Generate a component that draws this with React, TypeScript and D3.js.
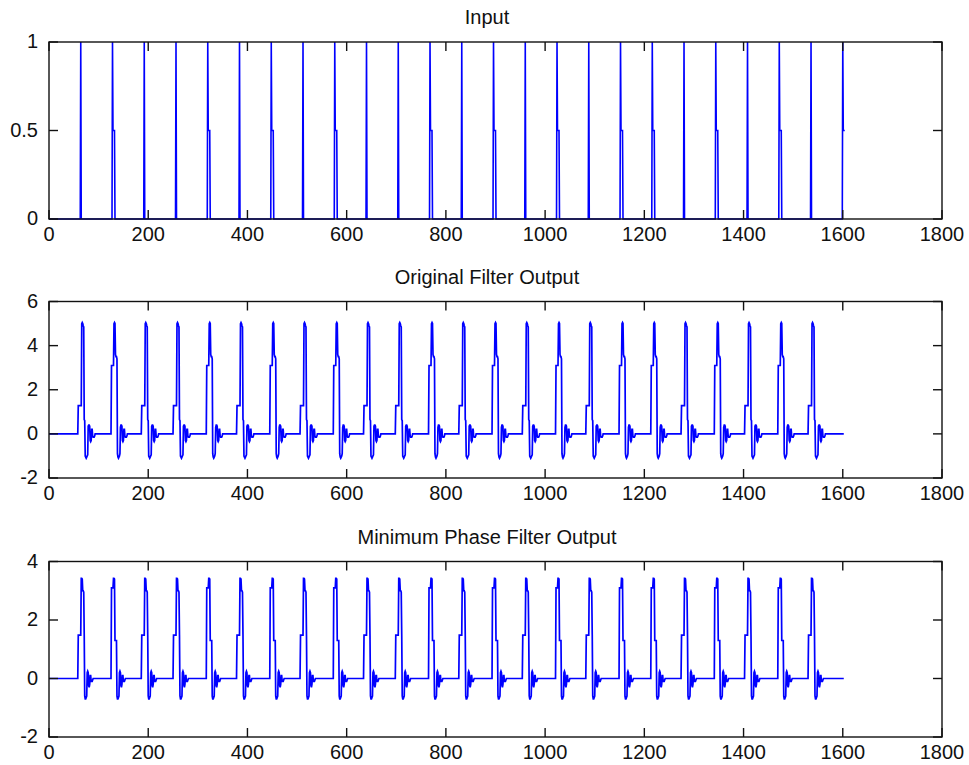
import React from 'react';
import * as d3 from 'd3';

// Sample index ticks shared by all three panels
const xTicks = [0, 200, 400, 600, 800, 1000, 1200, 1400, 1600, 1800];
const xMax = 1800;
const signalLength = 1603;

// Impulse train: a unit impulse every 64 samples, some followed by a 0.5 tail
const pulseStarts = [
  64, 128, 192, 256, 320, 384, 448, 512, 576, 640, 704, 768, 832,
  896, 960, 1024, 1088, 1152, 1216, 1280, 1344, 1408, 1472, 1536, 1600,
];
const pulseHasTail = [
  false, true, false, false, true, false, true, false, true, false, false, true, false,
  true, false, true, false, true, true, false, true, false, true, false, true,
];
const inputTail = [0.5, 0.5, 0.5, 0.5];

// Response shapes (values per sample, starting at the given offset from the impulse)
const origShapeStart = -5;
const origShapePlain = [
  1.28, 1.28, 1.28, 1.28, 1.28, 1.28, 1.28,
  5.0, 5.05, 5.0, 4.9, 4.85, 0.65, 0.6,
  -1.0, -1.05, -1.1, -1.05, -1.0, -0.95,
  0.35, 0.4, 0.4, 0.35, -0.3, -0.35, -0.3,
  0.2, 0.2, -0.1, -0.15, -0.15, -0.15, -0.1,
];
const origShapeTail = [
  0, 0, 0, 3.1, 3.1, 3.1, 3.1, 3.1,
  5.0, 5.05, 5.0, 3.6, 3.5, 3.5, 3.4,
  -0.9, -1.05, -1.1, -1.05, -1.0, -0.9,
  0.3, 0.4, 0.4, 0.35, -0.3, -0.35, -0.3,
  0.2, 0.2, -0.1, -0.15, -0.15, -0.15, -0.1,
];

const minShapeStart = -5;
const minShapePlain = [
  1.48, 1.48, 1.48, 1.48, 1.48, 1.48,
  3.42, 3.42, 3.4, 3.0, 3.0, 2.95, 1.5,
  -0.6, -0.7, -0.7, -0.65, -0.6,
  0.2, 0.25, 0.2, -0.25, -0.3, -0.2,
  0.1, 0.1, -0.1, -0.1, -0.1, -0.05,
];
const minShapeTail = [
  0, 0, 0, 3.1, 3.1, 3.1, 3.1,
  3.42, 3.42, 3.4, 1.3, 1.3, 1.3, 1.3,
  -0.6, -0.7, -0.7, -0.65, -0.6,
  0.2, 0.25, 0.2, -0.25, -0.3, -0.2,
  0.1, 0.1, -0.1, -0.1, -0.1, -0.05,
];

function buildInput(): number[] {
  const s = new Array(signalLength).fill(0);
  pulseStarts.forEach((p, i) => {
    s[p] = 1;
    if (pulseHasTail[i]) inputTail.forEach((v, k) => { s[p + 1 + k] = v; });
  });
  return s;
}

// Responses that would run past the end of the record are dropped
function buildOutput(start: number, plain: number[], tail: number[]): number[] {
  const s = new Array(signalLength).fill(0);
  pulseStarts.forEach((p, i) => {
    const shape = pulseHasTail[i] ? tail : plain;
    if (p + start + shape.length > signalLength) return;
    shape.forEach((v, k) => {
      const n = p + start + k;
      if (n >= 0) s[n] = v;
    });
  });
  return s;
}

const inputSeries = buildInput();
const origSeries = buildOutput(origShapeStart, origShapePlain, origShapeTail);
const minSeries = buildOutput(minShapeStart, minShapePlain, minShapeTail);

interface Panel {
  title: string;
  top: number;
  bottom: number;
  yDomain: [number, number];
  yTicks: number[];
  data: number[];
  strokeWidth: number;
}

const panels: Panel[] = [
  { title: 'Input', top: 42, bottom: 219, yDomain: [0, 1], yTicks: [0, 0.5, 1], data: inputSeries, strokeWidth: 1.6 },
  { title: 'Original Filter Output', top: 301.5, bottom: 478, yDomain: [-2, 6], yTicks: [-2, 0, 2, 4, 6], data: origSeries, strokeWidth: 1.7 },
  { title: 'Minimum Phase Filter Output', top: 561.5, bottom: 737, yDomain: [-2, 4], yTicks: [-2, 0, 2, 4], data: minSeries, strokeWidth: 1.7 },
];

const left = 49;
const right = 942;
const tickLen = 9;
const titleX = 487;
const font = '"Liberation Sans", Arial, sans-serif';

function PanelView({ panel }: { panel: Panel }) {
  const x = d3.scaleLinear().domain([0, xMax]).range([left, right]);
  const y = d3.scaleLinear().domain(panel.yDomain).range([panel.bottom, panel.top]);
  const line = d3.line<number>().x((_, i) => x(i)).y((v) => y(v));
  const fmt = (v: number) => String(v);
  return (
    <g>
      <rect x={left} y={panel.top} width={right - left} height={panel.bottom - panel.top} fill="#fff" />
      <path d={line(panel.data) || ''} fill="none" stroke="#0000ff" strokeWidth={panel.strokeWidth} strokeLinejoin="miter" />
      <rect x={left} y={panel.top} width={right - left} height={panel.bottom - panel.top} fill="none" stroke="#111" strokeWidth={1.4} />
      {xTicks.map((t) => (
        <g key={'x' + t}>
          <line x1={x(t)} x2={x(t)} y1={panel.bottom} y2={panel.bottom - tickLen} stroke="#111" strokeWidth={1.4} />
          <line x1={x(t)} x2={x(t)} y1={panel.top} y2={panel.top + tickLen} stroke="#111" strokeWidth={1.4} />
          <text x={x(t)} y={panel.bottom + 22} textAnchor="middle" fontSize={20} fontFamily={font} fill="#111">{fmt(t)}</text>
        </g>
      ))}
      {panel.yTicks.map((t) => (
        <g key={'y' + t}>
          <line x1={left} x2={left + tickLen} y1={y(t)} y2={y(t)} stroke="#111" strokeWidth={1.4} />
          <line x1={right} x2={right - tickLen} y1={y(t)} y2={y(t)} stroke="#111" strokeWidth={1.4} />
          <text x={left - 11} y={y(t) - 1} textAnchor="end" dominantBaseline="central" fontSize={20} fontFamily={font} fill="#111">{fmt(t)}</text>
        </g>
      ))}
      <text x={titleX} y={panel.top - 18} textAnchor="middle" fontSize={20} fontFamily={font} fill="#111">{panel.title}</text>
    </g>
  );
}

export default function App() {
  return (
    <svg width={969} height={765} style={{ position: 'absolute', left: 0, top: 0, background: '#fff' }}>
      <rect width={969} height={765} fill="#fff" />
      {panels.map((p) => <PanelView key={p.title} panel={p} />)}
    </svg>
  );
}
